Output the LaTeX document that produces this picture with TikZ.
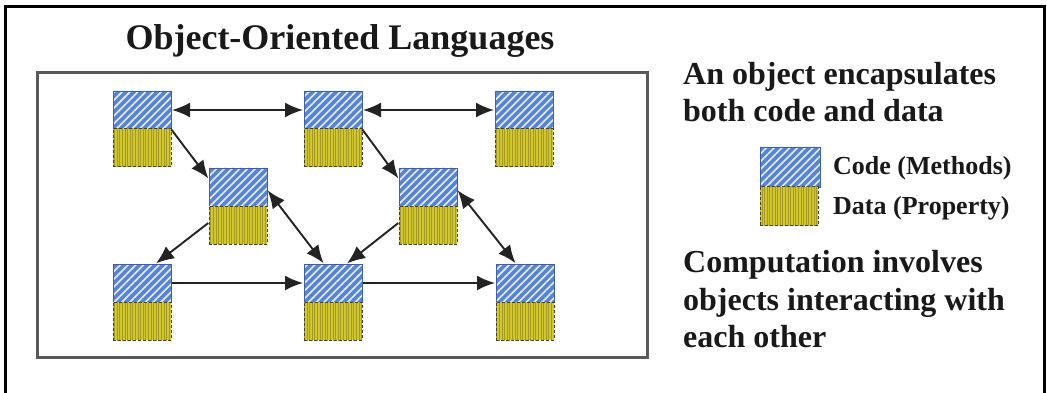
\documentclass[tikz,border=0pt]{standalone}
\usepackage{fontspec}
\setmainfont{Liberation Serif}
\usetikzlibrary{arrows.meta,patterns.meta,calc}
\definecolor{codeblue}{RGB}{88,132,212}
\definecolor{codeedge}{RGB}{60,95,175}
\definecolor{datayellow}{RGB}{208,198,48}
\definecolor{datadots}{RGB}{165,155,35}
\definecolor{arrowgray}{RGB}{35,35,35}
\tikzset{
  codebox/.style={draw=codeedge, line width=0.8pt, minimum width=58pt, minimum height=38pt,
    inner sep=0pt, outer sep=0pt, preaction={fill=codeblue},
    pattern={Lines[angle=45,distance=5.5pt,line width=1.6pt]}, pattern color=white!85!codeblue},
  databox/.style={draw=black!75, densely dashed, line width=1pt, minimum width=58pt, minimum height=38pt,
    inner sep=0pt, outer sep=0pt, preaction={fill=datayellow},
    pattern={Lines[angle=90,distance=2.6pt,line width=0.45pt]}, pattern color=datadots},
  tipstyle/.tip={Latex[length=18pt,width=15pt]},
  link/.style={draw=arrowgray, line width=1.9pt, -tipstyle, shorten >=1pt, shorten <=1pt},
  duo/.style={link, tipstyle-tipstyle},
  bigtext/.style={font=\bfseries\fontsize{32}{37}\selectfont, inner sep=0pt, anchor=base west, text=black!90},
  legtext/.style={font=\bfseries\fontsize{26}{30}\selectfont, inner sep=0pt, anchor=base west, text=black!90},
  titletext/.style={font=\bfseries\fontsize{36}{40}\selectfont, inner sep=0pt, anchor=base, text=black!90}
}
\begin{document}
\begin{tikzpicture}[x=1pt,y=-1pt]
\useasboundingbox (0,0) rectangle (1047,393);
\fill[white] (0,0) rectangle (1047,393);
\draw[line width=3pt] (5,396) -- (5,7) -- (1044,7) -- (1044,396);
\draw[draw=black!65, line width=3pt] (37,73) rectangle (647,357);

\node[titletext] (title) at (340,50) {Object-Oriented Languages};

% objects
\node[codebox] (c1) at (142,110) {};
\node[databox] (d1) at (142,148) {};
\node[codebox] (c2) at (333,110) {};
\node[databox] (d2) at (333,148) {};
\node[codebox] (c3) at (524,110) {};
\node[databox] (d3) at (524,148) {};
\node[codebox] (c4) at (238,187) {};
\node[databox] (d4) at (238,225) {};
\node[codebox] (c5) at (428,187) {};
\node[databox] (d5) at (428,225) {};
\node[codebox] (c6) at (142,283) {};
\node[databox] (d6) at (142,321) {};
\node[codebox] (c7) at (333,283) {};
\node[databox] (d7) at (333,321) {};
\node[codebox] (c8) at (525,283) {};
\node[databox] (d8) at (525,321) {};

% connectors
\draw[duo] (c1.east) -- (c2.west);
\draw[duo] (c2.east) -- (c3.west);
\draw[link] (c1.south east) -- (c4.165);
\draw[link] (c2.south east) -- (c5.165);
\draw[duo] (c4.-5) -- (c7.115);
\draw[link] (d5.175) -- (c7.55);
\draw[link] (d4.175) -- (c6.55);
\draw[duo] (c5.-5) -- (c8.115);
\draw[link] (c6.east) -- (c7.west);
\draw[link] (c7.east) -- (c8.west);

% right side text
\node[bigtext] (t1) at (683,85) {An object encapsulates};
\node[bigtext] (t2) at (683,122) {both code and data};
\node[codebox, minimum width=60pt, minimum height=40pt] (lc) at (790,167) {};
\node[databox, minimum width=58pt, minimum height=39pt] (ld) at (789,206) {};
\node[legtext] (lct) at (833,175) {Code (Methods)};
\node[legtext] (ldt) at (833,214) {Data (Property)};
\node[bigtext] (t3) at (683,272) {Computation involves};
\node[bigtext] (t4) at (683,310) {objects interacting with};
\node[bigtext] (t5) at (683,347) {each other};
\end{tikzpicture}
\end{document}
